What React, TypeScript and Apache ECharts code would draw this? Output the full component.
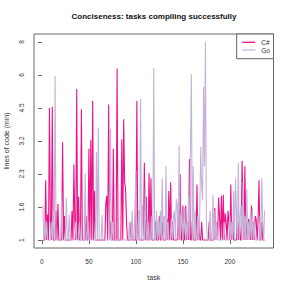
import React, { useEffect, useRef } from "react";
import * as echarts from "echarts";

const chartTitle = "Conciseness: tasks compiling successfully";
const xName = "task";
const yName = "lines of code (min)";
const seriesNames = ["C#", "Go"];
const seriesColors = ["#ee1289", "#c6b3d9"];
const xTicks = [0, 50, 100, 150, 200];
const yTickLabels = ["1", "1.6", "2.3", "3.2", "4.5", "6", "8"];

// values per task (task 1..237), in "lines of code (min)" units
const csharp = [
  1, 1, 1, 2.15, 1, 1.43, 1, 4.45, 1.3, 1, 4.5, 1, 1, 1, 1.5, 1, 1.63, 1, 1, 1,
  1, 3.2, 1, 1.4, 1, 1, 1, 1, 1, 1, 1, 1.5, 1, 2.55, 1.3, 1, 5.3, 1, 1.78, 1,
  1, 4.4, 1, 1, 1, 1, 1.4, 1, 1, 3.0, 1, 3.28, 1, 4.75, 1, 1.9, 1, 1, 1, 1,
  1, 1, 1, 1, 1, 1, 1, 1.65, 1.8, 1, 4.6, 1, 1.3, 1, 1, 3.0, 1, 1, 1, 6.35,
  1, 1, 1, 1, 3.3, 1, 4.0, 2.1, 1.95, 1.3, 1, 1, 1, 1, 1.3, 1, 1, 1, 1, 1,
  4.75, 1, 1.4, 1, 1, 1, 1, 1, 2.6, 1, 1.78, 1, 1, 2.32, 1, 2.2, 1, 1, 1, 1,
  1.3, 1, 1, 1, 1.4, 1, 1, 1.3, 1, 1, 1, 1, 1.35, 1, 1.9, 1, 2.1, 1, 1.3, 1,
  1, 1, 1, 1, 1.4, 1, 2.3, 1, 1, 1.6, 1, 1, 1.6, 1, 1.3, 1, 2.7, 1, 1, 1.3,
  1, 1, 1, 1, 2.05, 1, 1.3, 1, 1, 1.3, 1, 1, 1, 1, 1, 1, 1, 1.3, 1, 1,
  1, 1, 1, 1.55, 1, 1.3, 1, 1.76, 1.4, 1, 1.8, 1, 1.82, 1, 1.45, 1.3, 1, 1.5, 1.3, 1,
  2.05, 1, 1.3, 1, 1, 1, 1, 1.4, 1, 1.3, 1, 1, 2.65, 1.5, 1, 2.5, 1, 1.3, 1, 1.35,
  1.25, 1, 1.6, 1, 1.3, 1, 1.4, 1.35, 1, 1.3, 2.15, 1, 1, 1.3, 1, 1, 1,
];

const go = [
  1.6, 1, 1.35, 1, 1.3, 1, 1, 1, 1, 1.3, 1, 1.5, 1, 5.95, 1, 1, 1, 1, 1, 1,
  1.88, 1, 1, 1, 1, 1.76, 1, 1, 1.43, 1, 1, 1, 1, 1, 1, 1.3, 1, 1, 1, 1.3,
  1, 1, 1, 1, 1, 2.32, 1, 1, 1.3, 1, 1, 1, 1, 1, 1, 1, 1, 2.9, 1, 3.7,
  1, 1, 1, 1.42, 1, 1, 1, 1, 1, 1, 1, 1, 3.65, 1, 1.3, 1, 1, 1, 1, 1,
  1, 1, 1, 1, 1, 1, 1, 1, 1, 1, 1, 1, 1.3, 1, 1, 1.5, 1, 1, 1.6, 2.4,
  1, 1, 1.5, 1, 4.85, 1, 1.6, 1, 1, 1.97, 1, 1, 1.3, 1, 1, 1, 1.4, 1, 6.4, 1,
  1, 1.5, 1, 1.35, 1, 1.5, 1, 2.2, 1, 1.4, 1, 2.5, 1, 1.3, 1, 1, 1, 1.35, 1, 1.4,
  1.5, 1, 1.73, 1.6, 1, 3.1, 1, 1.4, 1.5, 1, 1.35, 1.55, 1, 1.3, 1, 1.8, 1, 2.75, 6.05, 1,
  2.5, 1, 1.5, 1, 1, 1.4, 1, 1.5, 3.05, 2.0, 1.7, 5.4, 2.5, 8, 1.3, 1, 1, 1, 1.5, 1,
  1, 1.82, 1, 1.5, 1, 1.3, 1, 1, 1, 1, 1, 1, 1, 1.3, 1, 1, 1, 1, 1, 1.4,
  1, 1.3, 1, 1.9, 1, 2.2, 1.5, 1, 2.6, 1, 1.4, 1.6, 1, 2.1, 1, 1.4, 1, 1.95, 1, 1.3,
  1, 1.5, 1, 1.55, 1, 1.3, 1, 1, 1, 1, 1, 1.4, 1, 2.2, 1.3, 1, 1.5,
];

// y axis is drawn on a log(1 + v) scale, ticks evenly spaced
const LN_LO = Math.log(2);
const STEP = (Math.log(9) - Math.log(2)) / 6;
const toAxis = (v: number) => (Math.log(v + 1) - LN_LO) / STEP;

export default function App() {
  const ref = useRef<HTMLDivElement>(null);
  useEffect(() => {
    document.body.style.margin = "0";
    const chart = echarts.init(ref.current!, null, { renderer: "svg" });
    const font = "'Liberation Sans', Arial, Helvetica, sans-serif";
    const n = csharp.length;
    const xr = n - 1;
    const yTop = yTickLabels.length - 1;
    const toData = (arr: number[]) => arr.map((v, i) => [i + 1, toAxis(v)]);
    const lgX = 236.7;
    const lgY = 34;
    const lgRows = [42.3, 50];
    chart.setOption({
      animation: false,
      backgroundColor: "#ffffff",
      textStyle: { fontFamily: font },
      title: {
        text: chartTitle,
        left: 154,
        top: 12,
        padding: 0,
        textAlign: "center",
        textStyle: { fontFamily: font, fontSize: 8, fontWeight: "bold", color: "#111" },
      },
      grid: {
        left: 34,
        right: 17.5,
        top: 34,
        bottom: 43,
        containLabel: false,
        outerBoundsMode: "none",
        show: true,
        borderColor: "#666",
        borderWidth: 1,
        backgroundColor: "transparent",
      },
      graphic: [
        {
          type: "group",
          z: 100,
          children: [
            {
              type: "rect",
              shape: { x: lgX, y: lgY, width: 273.5 - lgX, height: 24.7 },
              style: { fill: "#ffffff", stroke: "#666", lineWidth: 1 },
            },
            ...seriesNames.flatMap((name, i) => [
              {
                type: "line",
                shape: { x1: 242.3, y1: lgRows[i], x2: 255.3, y2: lgRows[i] },
                style: { stroke: seriesColors[i], lineWidth: 1.3 },
              },
              {
                type: "text",
                x: 261.2,
                y: lgRows[i],
                style: {
                  text: name,
                  fontFamily: font,
                  fontSize: 6.5,
                  fill: "#333",
                  verticalAlign: "middle",
                  textAlign: "left",
                },
              },
            ]),
          ],
        },
      ],
      xAxis: {
        type: "value",
        min: 1 - 0.04 * xr,
        max: n + 0.04 * xr,
        name: xName,
        nameLocation: "middle",
        nameGap: 26,
        nameTextStyle: { fontFamily: font, fontSize: 7, color: "#333" },
        axisLine: { show: false },
        splitLine: { show: false },
        axisTick: { show: true, inside: false, length: 4, customValues: xTicks, lineStyle: { color: "#666" } },
        axisLabel: { customValues: xTicks, fontSize: 6.5, color: "#333", margin: 10, fontFamily: font },
      },
      yAxis: {
        type: "value",
        min: -0.04 * yTop,
        max: yTop * 1.04,
        name: yName,
        nameLocation: "middle",
        nameRotate: 90,
        nameGap: 24.5,
        nameTextStyle: { fontFamily: font, fontSize: 7, color: "#333" },
        axisLine: { show: false },
        splitLine: { show: false },
        axisTick: {
          show: true,
          inside: false,
          length: 4,
          customValues: yTickLabels.map((_, i) => i),
          lineStyle: { color: "#666" },
        },
        axisLabel: {
          customValues: yTickLabels.map((_, i) => i),
          formatter: (v: number) => yTickLabels[Math.round(v)] ?? "",
          rotate: 90,
          fontSize: 6.5,
          color: "#333",
          margin: 9.25,
          fontFamily: font,
        },
      },
      series: [
        {
          name: seriesNames[0],
          type: "line",
          data: toData(csharp),
          symbol: "none",
          showSymbol: false,
          color: seriesColors[0],
          lineStyle: { color: seriesColors[0], width: 1.1 },
          z: 2,
        },
        {
          name: seriesNames[1],
          type: "line",
          data: toData(go),
          symbol: "none",
          showSymbol: false,
          color: seriesColors[1],
          lineStyle: { color: seriesColors[1], width: 1.1 },
          z: 3,
        },
      ],
    });
    return () => chart.dispose();
  }, []);
  return (
    <div
      ref={ref}
      style={{ position: "fixed", left: 0, top: 0, width: 291, height: 291, background: "#fff" }}
    />
  );
}
